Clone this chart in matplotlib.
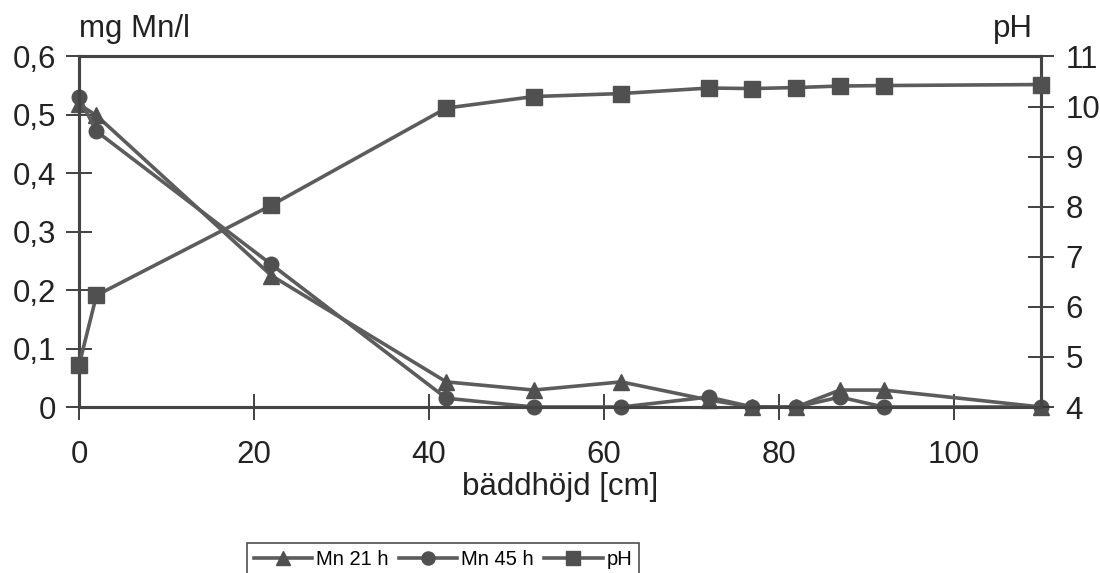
import numpy as np
import matplotlib
matplotlib.use('Agg')
import matplotlib.pyplot as plt

plt.rcParams['font.family'] = ['Liberation Sans', 'DejaVu Sans']

# bäddhöjd [cm]
hojd = [0, 2, 22, 42, 52, 62, 72, 77, 82, 87, 92, 110]
mn_21h = [0.518, 0.499, 0.225, 0.043, 0.029, 0.043, 0.012, 0.0, 0.0, 0.029, 0.029, 0.0]
mn_45h = [0.530, 0.472, 0.244, 0.015, 0.0, 0.0, 0.017, 0.0, 0.0, 0.017, 0.0, 0.0]
ph = [4.83, 6.23, 8.03, 9.97, 10.20, 10.26, 10.37, 10.36, 10.38, 10.41, 10.42, 10.44]

mn_ticks = [0, 0.1, 0.2, 0.3, 0.4, 0.5, 0.6]
mn_ticklabels = ['0', '0,1', '0,2', '0,3', '0,4', '0,5', '0,6']
ph_ticks = [4, 5, 6, 7, 8, 9, 10, 11]
x_ticks = [0, 20, 40, 60, 80, 100]

linjefarg = '#5c5c5c'
markfarg = '#505050'
fs = 22.5

fig = plt.figure(figsize=(11, 5.73), dpi=100)
ax = fig.add_axes([0.0718, 0.2897, 0.8746, 0.6117])
ax2 = ax.twinx()

l1, = ax.plot(hojd, mn_21h, color=linjefarg, lw=2.6, marker='^', ms=11.5,
              mfc=markfarg, mec=markfarg, label='Mn 21 h', zorder=3, clip_on=False)
l2, = ax.plot(hojd, mn_45h, color=linjefarg, lw=2.6, marker='o', ms=10.5,
              mfc=markfarg, mec=markfarg, label='Mn 45 h', zorder=3, clip_on=False)
l3, = ax2.plot(hojd, ph, color=linjefarg, lw=2.6, marker='s', ms=11,
               mfc=markfarg, mec=markfarg, label='pH', zorder=3, clip_on=False)

ax.set_xlim(0, 110)
ax.set_ylim(0, 0.6)
ax2.set_ylim(4, 11)

ax.set_xticks(x_ticks)
ax.set_yticks(mn_ticks)
ax.set_yticklabels(mn_ticklabels)
ax2.set_yticks(ph_ticks)

for a in (ax, ax2):
    for s in a.spines.values():
        s.set_color('#444444')
        s.set_linewidth(2.2)
ax.tick_params(axis='both', direction='inout', length=19, width=1.3,
               color='#333333', labelsize=fs, labelcolor='#222222', pad=7)
ax.tick_params(axis='x', pad=14)
ax2.tick_params(axis='y', direction='inout', length=19, width=1.3,
                color='#333333', labelsize=fs, labelcolor='#222222', pad=8)

ax.set_xlabel('bäddhöjd [cm]', fontsize=fs, color='#222222', labelpad=2)
ax.text(0.0, 1.035, 'mg Mn/l', transform=ax.transAxes, fontsize=fs,
        color='#222222', ha='left', va='bottom')
ax2.text(0.992, 1.035, 'pH', transform=ax2.transAxes, fontsize=fs,
         color='#222222', ha='right', va='bottom')

leg = fig.legend(handles=[l1, l2, l3], loc='upper left',
                 bbox_to_anchor=(0.2245, 0.0524), ncol=3, fontsize=14.5,
                 frameon=True, fancybox=False, edgecolor='#222222',
                 handlelength=2.9, handletextpad=0.2, columnspacing=0.5,
                 borderpad=0.35, borderaxespad=0, markerscale=0.9)
leg.get_frame().set_linewidth(1.2)

fig.savefig('out.png', dpi=100, facecolor='white')
